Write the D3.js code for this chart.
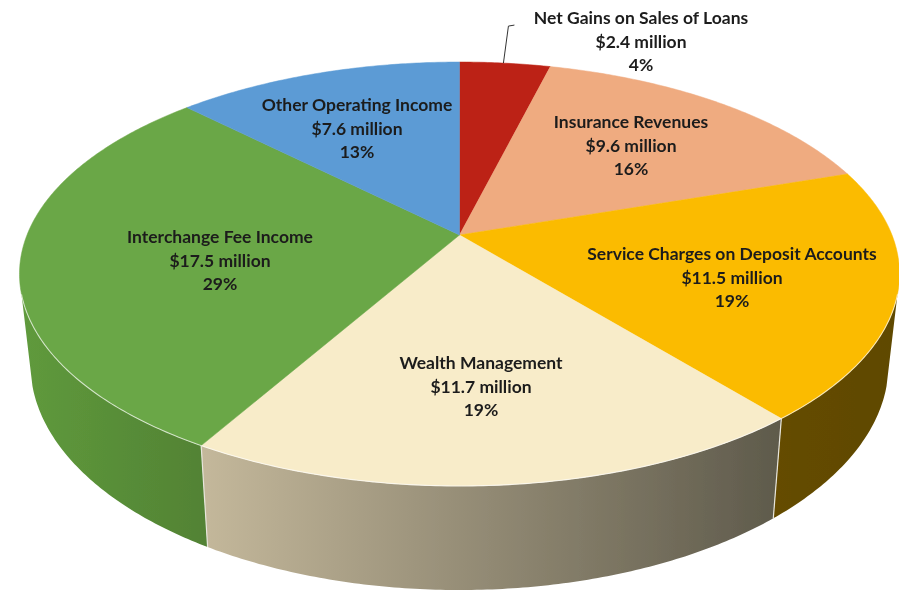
<!DOCTYPE html>
<html><head><meta charset="utf-8">
<script src="https://cdnjs.cloudflare.com/ajax/libs/d3/7.8.5/d3.min.js"></script>
<style>html,body{margin:0;padding:0;background:#fff}svg{display:block}</style>
</head><body><div id="chart"></div>
<script>
// Data, clockwise from twelve o'clock
const categories = ["Net Gains on Sales of Loans","Insurance Revenues","Service Charges on Deposit Accounts","Wealth Management","Interchange Fee Income","Other Operating Income"];
const amounts = [2.4, 9.6, 11.5, 11.7, 17.5, 7.6];
const amountLabels = ["$2.4 million","$9.6 million","$11.5 million","$11.7 million","$17.5 million","$7.6 million"];
const percentLabels = ["4%","16%","19%","19%","29%","13%"];
const topColors = ["#bc2014","#efab80","#fbbb00","#f8ecc9","#6aa746","#5b9bd5"];
const wallFrom = ["#7a150d","#9c6f53","#654c00","#c4b89b","#5f9a3c","#3b6588"];
const wallTo = ["#7a150d","#9c6f53","#5f4800","#5e5a4b","#528234","#3b6588"];
const labelCenters = [[641,18],[631,122],[732,254],[481,363],[220,237],[357,105]];

const W = 899, H = 592;
const svg = d3.select("#chart").append("svg").attr("width",W).attr("height",H).attr("viewBox",[0,0,W,H]);
const defs = svg.append("defs");
defs.append("filter").attr("id","soft").attr("x",0).attr("y",0).attr("width",1).attr("height",1)
  .attr("filterUnits","userSpaceOnUse").attr("width",W).attr("height",H)
  .append("feGaussianBlur").attr("stdDeviation",0.45);
const root = svg.append("g").attr("filter","url(#soft)");

// perspective projection of the disc
const cx = 459.5, cy = 235, k = 0.184, A = 432.5, B = 204.8;
function topPt(a){ const X=Math.sin(a), Y=-Math.cos(a), w=1-k*Y; return [cx+A*X/w, cy+B*Y/w]; }
function lowPt(a){ const p=topPt(a); return [cx+(p[0]-cx)*0.975, 323+(p[1]-cy)*1.064]; }
const line = d3.line();
const rad = d=>d*Math.PI/180;
const samples = (a0,a1)=>{ const n=Math.max(2,Math.ceil(Math.abs(a1-a0)/0.01)); return d3.range(n+1).map(i=>a0+(a1-a0)*i/n); };

const arcs = d3.pie().sort(null).value(d=>d)(amounts);
const wallMin = rad(106), wallMax = rad(254);

// walls
const gWalls = root.append("g");
arcs.forEach((d,i)=>{
  const a0=Math.max(d.startAngle,wallMin), a1=Math.min(d.endAngle,wallMax);
  if(a1<=a0) return;
  const t=samples(a0,a1), up=t.map(topPt), lo=t.map(lowPt).reverse();
  const xs=up.concat(lo).map(p=>p[0]);
  const g=defs.append("linearGradient").attr("id","wall"+i).attr("gradientUnits","userSpaceOnUse")
    .attr("x1",d3.min(xs)).attr("x2",d3.max(xs)).attr("y1",0).attr("y2",0);
  g.append("stop").attr("offset",0).attr("stop-color",wallFrom[i]);
  g.append("stop").attr("offset",1).attr("stop-color",wallTo[i]);
  gWalls.append("path").attr("d",line(up.concat(lo))+"Z").attr("fill",`url(#wall${i})`);
});
// separators on the wall
arcs.forEach(d=>{
  const a=d.endAngle;
  if(a>wallMin && a<wallMax) gWalls.append("path").attr("d",line([topPt(a),lowPt(a)])).attr("stroke","#e8e6dc").attr("stroke-width",1.2).attr("fill","none");
});

// top faces
root.append("g").selectAll("path").data(arcs).join("path")
  .attr("d",d=>line([[cx,cy]].concat(samples(d.startAngle,d.endAngle).map(topPt)))+"Z")
  .attr("fill",(d,i)=>topColors[i]).attr("stroke",(d,i)=>topColors[i]).attr("stroke-width",0.5);

// pale rim along the front edge
root.append("path").attr("d",line(samples(wallMin,wallMax).map(topPt))).attr("fill","none")
  .attr("stroke","#fff").attr("stroke-opacity",0.65).attr("stroke-width",1.1);

// leader of the small slice
const leadBase = topPt(rad(6.9));
root.append("path").attr("d",line([leadBase,[leadBase[0]+5,leadBase[1]-37],[leadBase[0]+11,leadBase[1]-38]]))
  .attr("fill","none").attr("stroke","#333").attr("stroke-width",1);

// labels
const rows = categories.map((c,i)=>[c,amountLabels[i],percentLabels[i]]);
const gl = root.append("g").attr("font-family","Lato, 'Open Sans', sans-serif").attr("font-weight",700)
  .attr("font-size",17.5).attr("fill","#1c1c1c").attr("text-anchor","middle");
rows.forEach((r,i)=>{
  r.forEach((s,j)=>{
    gl.append("text").attr("x",labelCenters[i][0]).attr("y",labelCenters[i][1]+j*23.5).attr("dy","0.35em").text(s);
  });
});
</script></body></html>
